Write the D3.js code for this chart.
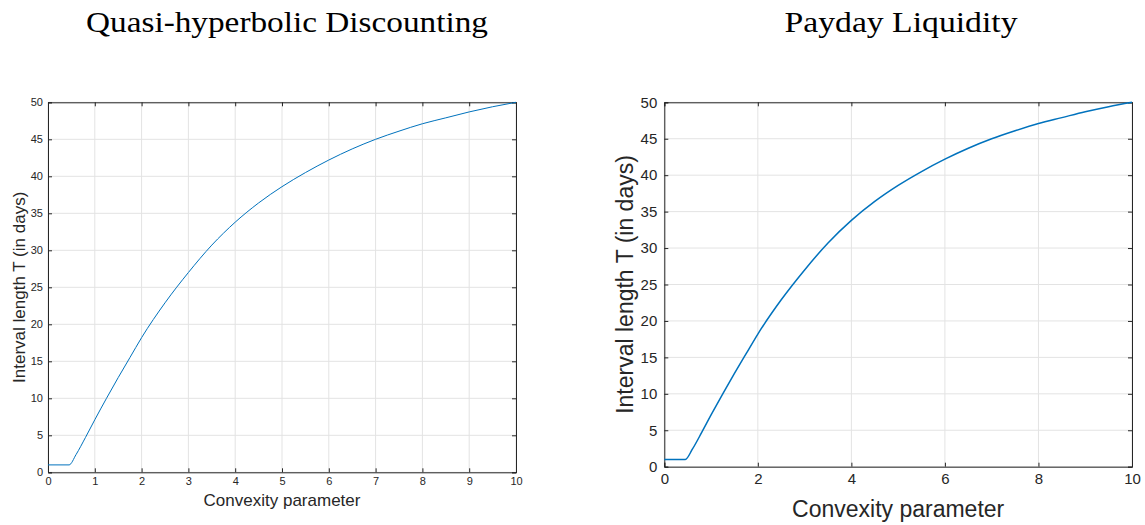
<!DOCTYPE html>
<html>
<head>
<meta charset="utf-8">
<script src="https://cdn.jsdelivr.net/npm/d3@7"></script>
<style>
  body { margin: 0; background: #fff; }
  svg { display: block; }
</style>
</head>
<body>
<svg id="chart" width="1145" height="525"></svg>
<script>
// convexity parameter (x) and interval length T in days (y)
var convexity = [0, 0.45, 0.6, 0.8, 1.0, 1.25, 1.5, 1.75, 2.0, 2.5, 3.0, 3.5, 4.0, 4.5, 5.0, 5.5, 6.0, 6.5, 7.0, 7.5, 8.0, 8.5, 9.0, 9.5, 10.0];
var intervalQHD = [1, 1, 2.4, 4.7, 7.1, 10, 12.8, 15.5, 18.2, 22.9, 27.0, 30.7, 33.8, 36.4, 38.6, 40.5, 42.2, 43.7, 45.0, 46.1, 47.1, 47.9, 48.7, 49.4, 50];
var intervalPayday = [1, 1, 2.4, 4.7, 7.1, 10, 12.8, 15.5, 18.2, 22.9, 27.0, 30.7, 33.8, 36.4, 38.6, 40.5, 42.2, 43.7, 45.0, 46.1, 47.1, 47.9, 48.7, 49.4, 50];

var xTicksLeft = [0, 1, 2, 3, 4, 5, 6, 7, 8, 9, 10];
var xTicksRight = [0, 2, 4, 6, 8, 10];
var yTicks = [0, 5, 10, 15, 20, 25, 30, 35, 40, 45, 50];

var titles = ["Quasi-hyperbolic Discounting", "Payday Liquidity"];
var xLabel = "Convexity parameter";
var yLabel = "Interval length T (in days)";

var svg = d3.select("#chart");
var AX = "#262626", GRID = "#e3e3e3", LINE = "#0072BD";

function drawPanel(p) {
  var x = d3.scaleLinear().domain([0, 10]).range([p.left, p.right]);
  var y = d3.scaleLinear().domain([0, 50]).range([p.bottom, p.top]);
  var g = svg.append("g");

  // grid
  g.selectAll(".gx").data(p.xTicks).enter().append("line")
    .attr("x1", function(d){ return x(d); }).attr("x2", function(d){ return x(d); })
    .attr("y1", p.top).attr("y2", p.bottom)
    .attr("stroke", GRID).attr("stroke-width", 1);
  g.selectAll(".gy").data(yTicks).enter().append("line")
    .attr("y1", function(d){ return y(d); }).attr("y2", function(d){ return y(d); })
    .attr("x1", p.left).attr("x2", p.right)
    .attr("stroke", GRID).attr("stroke-width", 1);

  // axes (ticks inward, mirrored on top and right)
  var tl = p.tick;
  g.append("g").attr("transform", "translate(0," + p.bottom + ")")
    .call(d3.axisBottom(x).tickValues(p.xTicks).tickSize(-tl).tickPadding(tl + p.xPad).tickFormat(d3.format("d")));
  g.append("g").attr("transform", "translate(0," + p.top + ")")
    .call(d3.axisTop(x).tickValues(p.xTicks).tickSize(-tl).tickFormat(""));
  g.append("g").attr("transform", "translate(" + p.left + ",0)")
    .call(d3.axisLeft(y).tickValues(yTicks).tickSize(-tl).tickPadding(tl + p.yPad).tickFormat(d3.format("d")));
  g.append("g").attr("transform", "translate(" + p.right + ",0)")
    .call(d3.axisRight(y).tickValues(yTicks).tickSize(-tl).tickFormat(""));

  g.selectAll(".domain").attr("stroke", AX).attr("stroke-width", 1);
  g.selectAll(".tick line").attr("stroke", AX);
  g.selectAll(".tick text").attr("fill", AX)
    .style("font-family", "'Liberation Sans', Arial, sans-serif")
    .style("font-size", p.tickFont + "px");

  // curve
  var line = d3.line()
    .x(function(d, i){ return x(convexity[i]); })
    .y(function(d){ return y(d); })
    .curve(d3.curveMonotoneX);
  g.append("path").datum(p.values)
    .attr("fill", "none").attr("stroke", LINE).attr("stroke-width", p.lineW)
    .attr("d", line);

  // labels
  g.append("text").text(xLabel)
    .attr("x", (p.left + p.right) / 2).attr("y", p.xLabelY)
    .attr("text-anchor", "middle").attr("fill", AX)
    .style("font-family", "'Liberation Sans', Arial, sans-serif")
    .style("font-size", p.labelFont + "px");
  g.append("text").text(yLabel)
    .attr("transform", "translate(" + p.yLabelX + "," + ((p.top + p.bottom) / 2) + ") rotate(-90)")
    .attr("text-anchor", "middle").attr("fill", AX)
    .style("font-family", "'Liberation Sans', Arial, sans-serif")
    .style("font-size", p.labelFont + "px");

  g.append("text").text(p.title)
    .attr("x", p.titleX).attr("y", 32)
    .attr("text-anchor", "middle").attr("fill", "#000")
    .attr("textLength", p.titleW).attr("lengthAdjust", "spacingAndGlyphs")
    .style("font-family", "'Liberation Serif', 'Times New Roman', serif")
    .style("font-size", "30px");
}

drawPanel({
  left: 48, right: 516, top: 102.3, bottom: 472.3,
  xTicks: xTicksLeft, values: intervalQHD, tick: 4,
  xPad: 1, yPad: 1, tickFont: 11, labelFont: 17, lineW: 1,
  xLabelY: 506, yLabelX: 25, title: titles[0], titleX: 287, titleW: 402
});

drawPanel({
  left: 664.3, right: 1132, top: 102.3, bottom: 466.7,
  xTicks: xTicksRight, values: intervalPayday, tick: 4,
  xPad: 3, yPad: 3, tickFont: 15, labelFont: 23, lineW: 1.5,
  xLabelY: 517, yLabelX: 633, title: titles[1], titleX: 901, titleW: 233
});
</script>
</body>
</html>
